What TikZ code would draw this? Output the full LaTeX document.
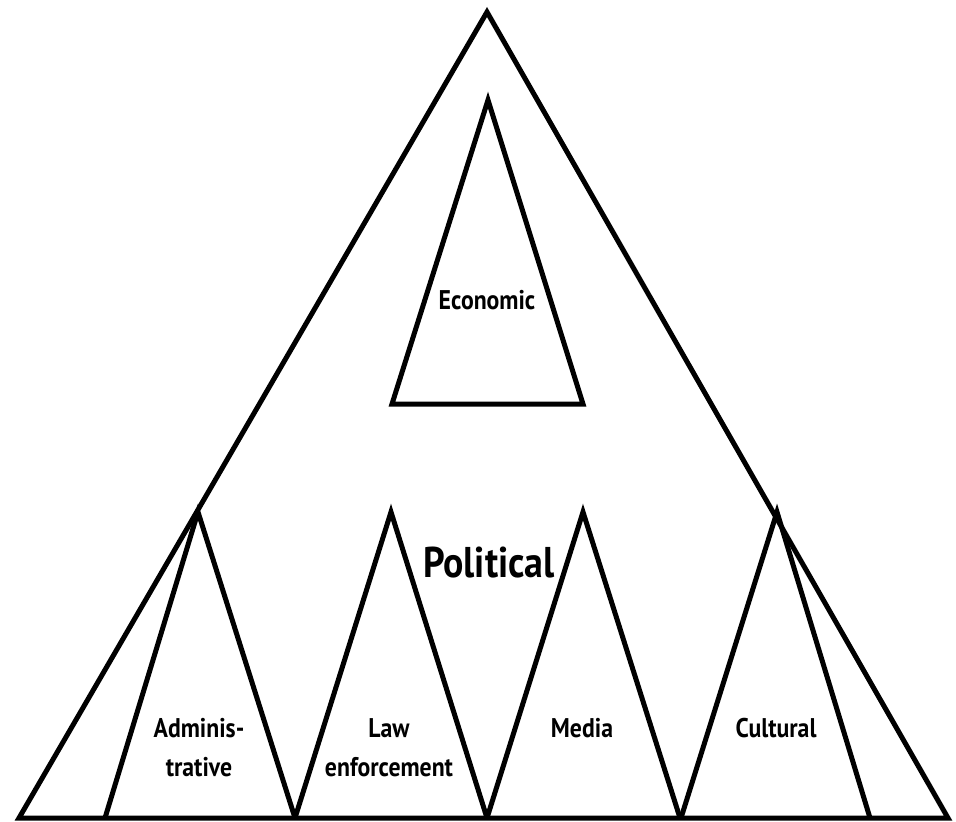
\documentclass[tikz,border=0pt]{standalone}
\usepackage{fontspec}
\setmainfont{PT Sans}[FakeStretch=0.88]
\usetikzlibrary{positioning}

\begin{document}
\begin{tikzpicture}[x=1pt,y=-1pt,
    tri/.style={line width=5pt, line join=miter, line cap=butt},
    lbl/.style={font=\bfseries\fontsize{27}{39}\selectfont, align=center, inner sep=0pt},
  ]
  \useasboundingbox (0,0) rectangle (956,822);

  % outer triangle
  \coordinate (top) at (487,12);
  \coordinate (bl)  at (19,818);
  \coordinate (br)  at (948,818);
  \draw[tri] (top) -- (br) -- (bl) -- cycle;

  % economic triangle
  \coordinate (etop) at (488,100);
  \coordinate (el)   at (392,404);
  \coordinate (er)   at (583,404);
  \draw[tri] (etop) -- (er) -- (el) -- cycle;

  % the four small ones stand on the base line
  \foreach \name/\l/\a/\r in {adm/105/198/295, law/295/391/487, med/487/583/680, cul/681/777/870}
    {
      \coordinate (\name-l) at (\l,818);
      \coordinate (\name-t) at (\a,512);
      \coordinate (\name-r) at (\r,818);
      \draw[tri] (\name-l) -- (\name-t) -- (\name-r);
    }

  \node[lbl, anchor=base] (eco) at (487,309) {Economic};
  \node[lbl, anchor=base, font=\bfseries\fontsize{43}{50}\selectfont] (pol) at (489,577) {Political};
  \node[lbl, anchor=base] (admtxt) at (199,776) {Adminis-\\trative};
  \node[lbl, anchor=base] (lawtxt) at (389,776) {Law\\enforcement};
  \node[lbl, anchor=base] (medtxt) at (582,737) {Media};
  \node[lbl, anchor=base] (cultxt) at (776,737) {Cultural};
\end{tikzpicture}
\end{document}
